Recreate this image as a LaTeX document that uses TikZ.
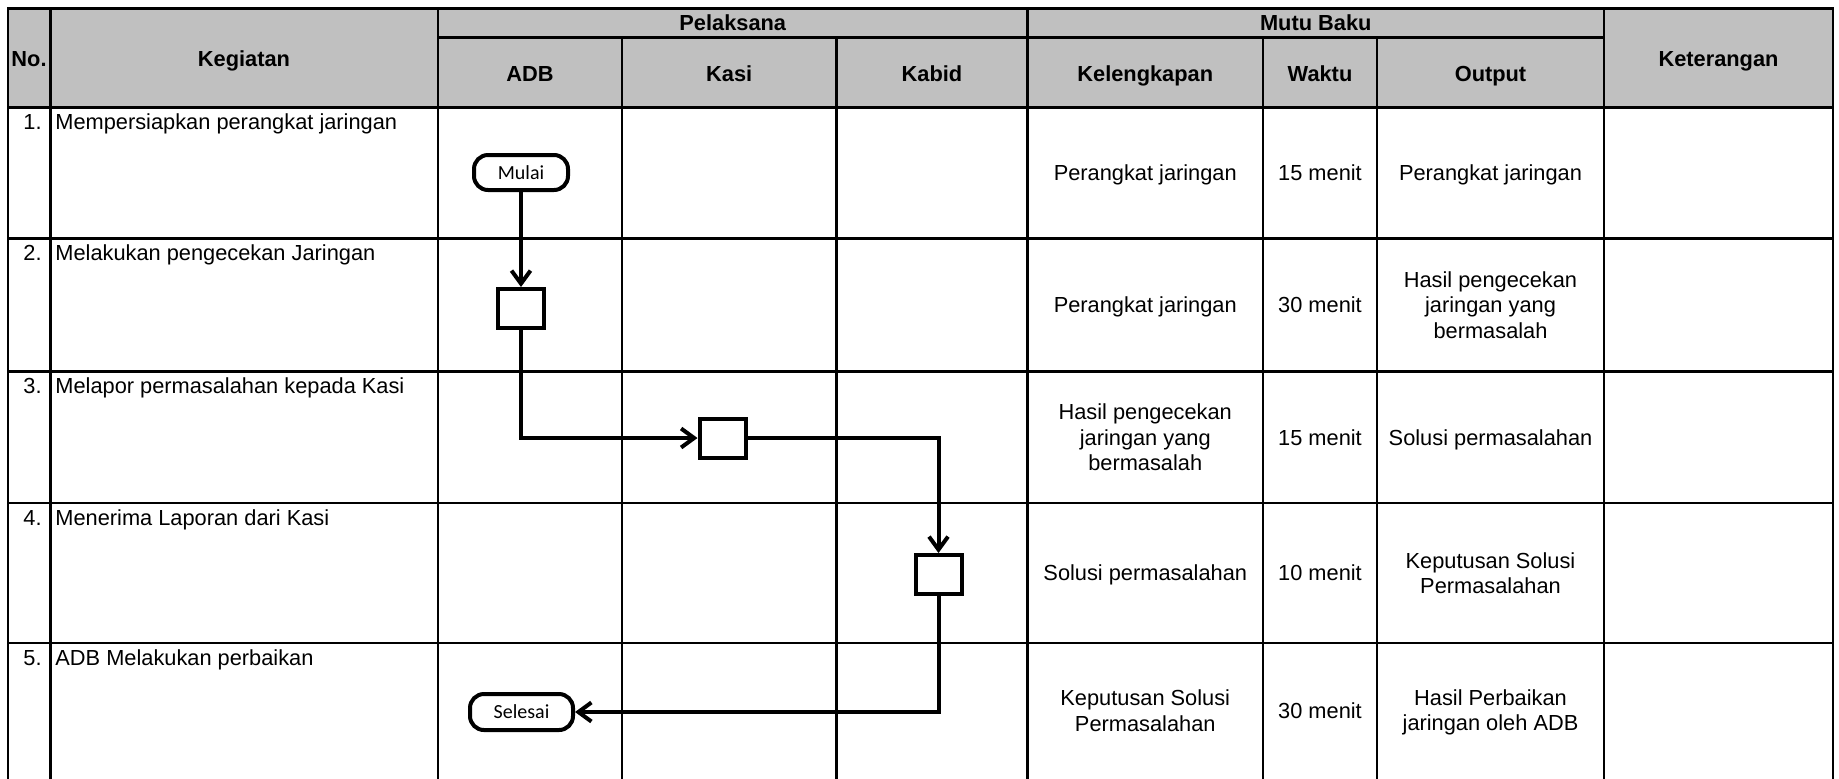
\documentclass[tikz,border=0pt]{standalone}
\usepackage{fontspec}
\setmainfont{Liberation Sans}
\newfontfamily\calfont{Carlito}
\usetikzlibrary{arrows.meta}
\definecolor{hdrgray}{RGB}{192,192,192}
\begin{document}
\begin{tikzpicture}[x=0.5pt,y=-0.5pt,
  grid/.style={line width=1.3pt, line cap=rect},
  hdr/.style={font=\fontsize{10.9}{12.75}\selectfont\bfseries, anchor=base, inner sep=0pt},
  cell/.style={font=\fontsize{10.9}{12.75}\selectfont, anchor=base, inner sep=0pt},
  mcell/.style={font=\fontsize{10.9}{12.75}\selectfont, align=center, inner sep=0pt},
  lbl/.style={font=\fontsize{10.9}{12.75}\selectfont, anchor=base west, inner sep=0pt},
  num/.style={font=\fontsize{10.9}{12.75}\selectfont, anchor=base east, inner sep=0pt},
  term/.style={draw, line width=2pt, rounded corners=7pt, minimum height=17.5pt, inner sep=0pt, font=\calfont\fontsize{10}{12}\selectfont},
  act/.style={draw, line width=2pt, minimum width=23pt, minimum height=19.5pt, inner sep=0pt},
  flow/.style={line width=2pt, -{Straight Barb[length=6.5pt,width=9.5pt]}}
]
\useasboundingbox (0,0) rectangle (1839,778);
\fill[white] (0,0) rectangle (1839,778);
% header background
\fill[hdrgray] (8,8.5) rectangle (1833,107.5);
% horizontal lines
\draw[grid] (8,8.5) -- (1833,8.5);
\draw[grid] (438,37.7) -- (1604,37.7);
\foreach \yy in {107.5,238.5,371.5,503,643}{\draw[grid] (8,\yy) -- (1833,\yy);}
% vertical lines
\foreach \xx in {8,50.5,438,1027.5,1604,1833}{\draw[grid] (\xx,8.5) -- (\xx,778);}
\foreach \xx in {622,836.5,1263,1377}{\draw[grid] (\xx,37.7) -- (\xx,778);}

% header texts
\node[hdr] (hno) at (29,66) {No.};
\node[hdr] (hkeg) at (244,66) {Kegiatan};
\node[hdr] (hpel) at (732.75,30) {Pelaksana};
\node[hdr] (hmutu) at (1315.75,30) {Mutu Baku};
\node[hdr] (hket) at (1718.5,66) {Keterangan};
\node[hdr] (hadb) at (530,81.7) {ADB};
\node[hdr] (hkasi) at (729.25,81.7) {Kasi};
\node[hdr] (hkabid) at (932,81.7) {Kabid};
\node[hdr] (hkel) at (1145.25,81.7) {Kelengkapan};
\node[hdr] (hwak) at (1320,81.7) {Waktu};
\node[hdr] (hout) at (1490.5,81.7) {Output};

% row labels
\node[num] (n1) at (42,129.5) {1.};
\node[lbl] (k1) at (55,129.5) {Mempersiapkan perangkat jaringan};
\node[num] (n2) at (42,260.5) {2.};
\node[lbl] (k2) at (55,260.5) {Melakukan pengecekan Jaringan};
\node[num] (n3) at (42,393.5) {3.};
\node[lbl] (k3) at (55,393.5) {Melapor permasalahan kepada Kasi};
\node[num] (n4) at (42,525) {4.};
\node[lbl] (k4) at (55,525) {Menerima Laporan dari Kasi};
\node[num] (n5) at (42,665) {5.};
\node[lbl] (k5) at (55,665) {ADB Melakukan perbaikan};

% mutu baku cells
\node[cell] (kel1) at (1145.25,180.8) {Perangkat jaringan};
\node[cell] (wak1) at (1320,180.8) {15 menit};
\node[cell] (out1) at (1490.5,180.8) {Perangkat jaringan};

\node[cell] (kel2) at (1145.25,312.8) {Perangkat jaringan};
\node[cell] (wak2) at (1320,312.8) {30 menit};
\node[mcell] (out2) at (1490.5,305) {Hasil pengecekan\\jaringan yang\\bermasalah};

\node[mcell] (kel3) at (1145.25,437.25) {Hasil pengecekan\\jaringan yang\\bermasalah};
\node[cell] (wak3) at (1320,445) {15 menit};
\node[cell] (out3) at (1490.5,445) {Solusi permasalahan};

\node[cell] (kel4) at (1145.25,580.8) {Solusi permasalahan};
\node[cell] (wak4) at (1320,580.8) {10 menit};
\node[mcell] (out4) at (1490.5,573) {Keputusan Solusi\\Permasalahan};

\node[mcell] (kel5) at (1145.25,710.5) {Keputusan Solusi\\Permasalahan};
\node[cell] (wak5) at (1320,718.3) {30 menit};
\node[mcell] (out5) at (1490.5,712.5) {Hasil Perbaikan\\jaringan oleh ADB};

% flowchart shapes
\node[term, minimum width=47pt] (mulai) at (521,172.5) {Mulai};
\node[act] (s1) at (521,308.5) {};
\node[act] (s2) at (722.5,438) {};
\node[act] (s3) at (938.5,574.5) {};
\node[term, minimum width=51.5pt, minimum height=18pt] (selesai) at (521.5,712) {Selesai};

% connectors
\draw[flow] (mulai.south) -- (s1.north);
\draw[flow] (s1.south) |- (s2.west);
\draw[flow] (s2.east) -| (s3.north);
\draw[flow] (s3.south) |- (selesai.east);
\end{tikzpicture}
\end{document}
